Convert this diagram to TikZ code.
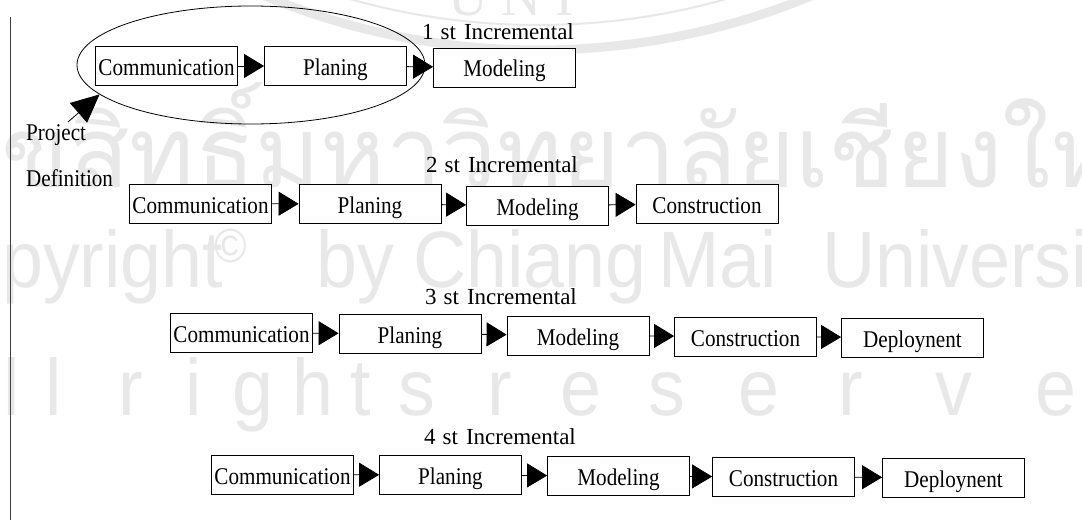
\documentclass[tikz,border=0pt]{standalone}
\usepackage{fontspec}
\setmainfont{Liberation Serif}
\newfontfamily\stagefont[FakeStretch=0.88]{Liberation Serif}
\newfontfamily\thaimark[Script=Thai]{Loma}
\newfontfamily\sansmark[FakeStretch=0.92]{Liberation Sans}
\usetikzlibrary{arrows.meta,shapes.geometric}
\begin{document}
\begin{tikzpicture}[x=1pt,y=-1pt,
  stage/.style={draw, line width=0.8pt, fill=white, minimum width=142pt, minimum height=39pt,
    inner sep=0pt, text height=20pt, text depth=1pt, font=\stagefont\fontsize{24}{26}\selectfont},
  flow/.style={line width=0.8pt, -{Triangle[length=20pt,width=24pt]}},
  bigflow/.style={line width=0.8pt, -{Triangle[length=28pt,width=26pt]}},
  roundlabel/.style={inner sep=0pt, font=\fontsize{23}{26}\selectfont},
  sidetext/.style={anchor=base west, inner sep=0pt, font=\stagefont\fontsize{24}{26}\selectfont},
  wmtext/.style={inner sep=0pt, text=black!9, anchor=base west},
  wmline/.style={draw=black!9},
]
\useasboundingbox (0,0) rectangle (1082,532);
\fill[white] (0,0) rectangle (1082,532);

% faint background watermark: seal ring and notice
\begin{scope}
\clip (0,0) rectangle (1082,532);
\draw[wmline, line width=9pt] (538,-665) circle[radius=715];
\draw[wmline, line width=2pt] (538,-665) circle[radius=690];
\node[wmtext, font=\fontsize{55}{60}\selectfont] (wmseal) at (448,16) {U\hspace{14pt}N\hspace{14pt}I};
\node[wmtext, font=\thaimark\fontsize{99}{104}\selectfont] (wmthai) at (-59,187) {ลิขสิทธิ์มหาวิทยาลัยเชียงใหม่};
\begin{scope}[every node/.style={wmtext, font=\sansmark\fontsize{80}{82}\selectfont}]
\node (wmcopy) at (-92,287) {Copyright};
\node[font=\sansmark\fontsize{48}{50}\selectfont] (wmcirc) at (214,262) {©};
\node (wmby) at (316,287) {by};
\node (wmchiang) at (413,287) {Chiang};
\node (wmmai) at (658,287) {Mai};
\node (wmuniv) at (822,287) {University};
\foreach \ch/\xx in {A/-50,l/3,l/45,r/118,i/185,g/232,h/292,t/350,s/398,r/487,e/560,s/648,e/738,r/838,v/935,e/1035,d/1120}
  \node (wmr-\xx) at (\xx,415) {\ch};
\end{scope}
\end{scope}

% left margin rule
\draw[black!75, line width=1pt] (10,17) -- (10,520);

% first increment, with the project-definition loop
\node[draw, ellipse, line width=0.8pt, minimum width=348pt, minimum height=118pt, inner sep=0pt] (loop1) at (251,65) {};
\node[stage] (c1) at (166.5,66) {Communication};
\node[stage] (p1) at (335.5,66) {Planing};
\node[stage] (m1) at (504.5,67.5) {Modeling};
\draw[flow] (c1) -- (p1);
\draw[flow] (p1) -- (m1);
\node[roundlabel] (l1) at (498,32) {1\hspace{7pt}st\hspace{8pt}Incremental};

\node[sidetext] (proj) at (26,141) {Project};
\node[sidetext] (defn) at (26,186) {Definition};
\coordinate (pdtail) at (68,122);
\draw[bigflow] (pdtail) -- (loop1.191);

% second increment
\node[stage] (c2) at (200.5,203.5) {Communication};
\node[stage] (p2) at (370,204) {Planing};
\node[stage] (m2) at (537.5,205.5) {Modeling};
\node[stage] (k2) at (707,204) {Construction};
\draw[flow] (c2) -- (p2);
\draw[flow] (p2) -- (m2);
\draw[flow] (m2) -- (k2);
\node[roundlabel] (l2) at (502,165) {2\hspace{7pt}st\hspace{8pt}Incremental};

% third increment
\node[stage] (c3) at (241.5,333) {Communication};
\node[stage] (p3) at (410,333.5) {Planing};
\node[stage] (m3) at (578,335.5) {Modeling};
\node[stage] (k3) at (745.5,336.5) {Construction};
\node[stage] (d3) at (912.5,337.5) {Deploynent};
\draw[flow] (c3) -- (p3);
\draw[flow] (p3) -- (m3);
\draw[flow] (m3) -- (k3);
\draw[flow] (k3) -- (d3);
\node[roundlabel] (l3) at (501,297) {3\hspace{7pt}st\hspace{8pt}Incremental};

% fourth increment
\node[stage] (c4) at (282.5,474.5) {Communication};
\node[stage] (p4) at (450.5,475) {Planing};
\node[stage] (m4) at (618.5,476) {Modeling};
\node[stage] (k4) at (783.5,477) {Construction};
\node[stage] (d4) at (953.5,477.5) {Deploynent};
\draw[flow] (c4) -- (p4);
\draw[flow] (p4) -- (m4);
\draw[flow] (m4) -- (k4);
\draw[flow] (k4) -- (d4);
\node[roundlabel] (l4) at (500,437) {4\hspace{7pt}st\hspace{8pt}Incremental};
\end{tikzpicture}
\end{document}
